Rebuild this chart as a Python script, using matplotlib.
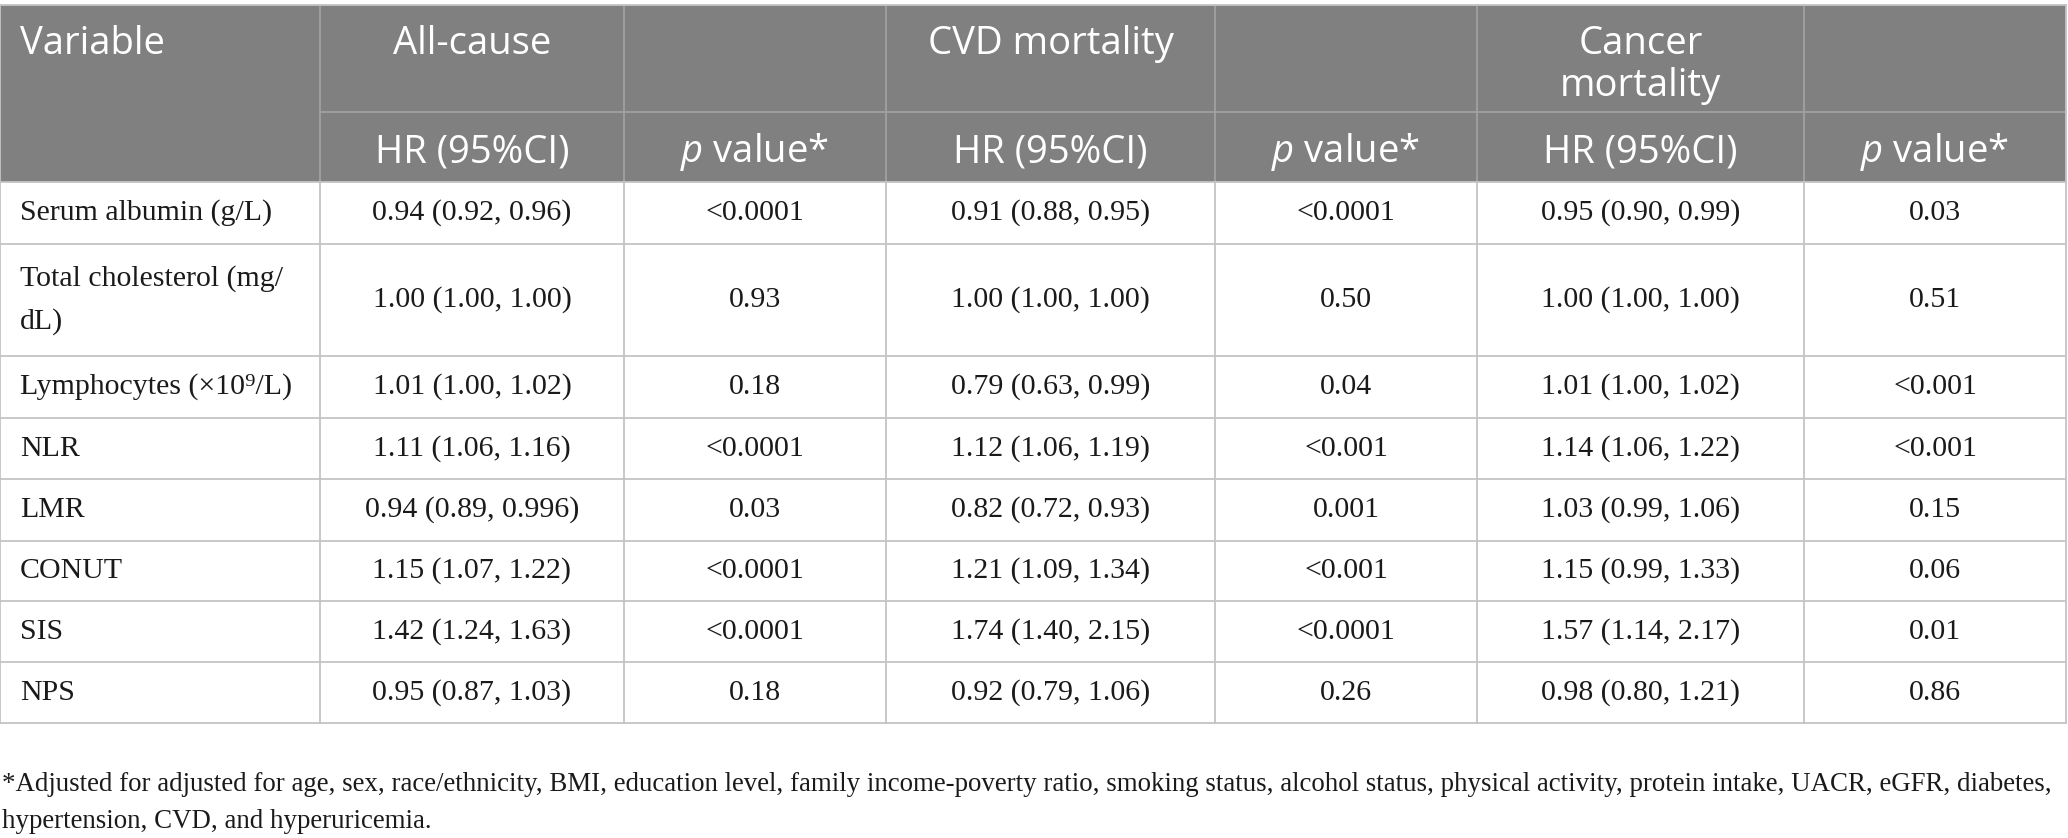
import matplotlib
matplotlib.use("Agg")
import matplotlib.pyplot as plt
from matplotlib.patches import Rectangle

# ---------------- data ----------------
variables = ["Serum albumin (g/L)", "Total cholesterol (mg/\ndL)", "Lymphocytes (×10⁹/L)",
             "NLR", "LMR", "CONUT", "SIS", "NPS"]
all_hr = ["0.94 (0.92, 0.96)", "1.00 (1.00, 1.00)", "1.01 (1.00, 1.02)", "1.11 (1.06, 1.16)",
          "0.94 (0.89, 0.996)", "1.15 (1.07, 1.22)", "1.42 (1.24, 1.63)", "0.95 (0.87, 1.03)"]
all_p = ["<0.0001", "0.93", "0.18", "<0.0001", "0.03", "<0.0001", "<0.0001", "0.18"]
cvd_hr = ["0.91 (0.88, 0.95)", "1.00 (1.00, 1.00)", "0.79 (0.63, 0.99)", "1.12 (1.06, 1.19)",
          "0.82 (0.72, 0.93)", "1.21 (1.09, 1.34)", "1.74 (1.40, 2.15)", "0.92 (0.79, 1.06)"]
cvd_p = ["<0.0001", "0.50", "0.04", "<0.001", "0.001", "<0.001", "<0.0001", "0.26"]
can_hr = ["0.95 (0.90, 0.99)", "1.00 (1.00, 1.00)", "1.01 (1.00, 1.02)", "1.14 (1.06, 1.22)",
          "1.03 (0.99, 1.06)", "1.15 (0.99, 1.33)", "1.57 (1.14, 2.17)", "0.98 (0.80, 1.21)"]
can_p = ["0.03", "0.51", "<0.001", "<0.001", "0.15", "0.06", "0.01", "0.86"]

header_top = ["Variable", "All-cause", "", "CVD mortality", "", "Cancer\nmortality", ""]
header_sub = ["", "HR (95%CI)", "$p$ value*", "HR (95%CI)", "$p$ value*", "HR (95%CI)", "$p$ value*"]
footnote = ["*Adjusted for adjusted for age, sex, race/ethnicity, BMI, education level, family income-poverty ratio, "
            "smoking status, alcohol status, physical activity, protein intake, UACR, eGFR, diabetes,",
            "hypertension, CVD, and hyperuricemia."]

# ---------------- layout ----------------
W, H = 2068, 838
col_x = [0, 320, 624, 886, 1215, 1477, 1804, 2066]
y_top, y_mid, y_hdr = 5, 112, 182
row_y = [182, 244, 356, 418, 479, 541, 601, 662, 723]

HEAD_BG = "#808080"
HEAD_LINE = "#a3a3a3"
GRID = "#c4c4c4"
TXT = "#1a1a1a"

plt.rcParams['mathtext.fontset'] = 'custom'
plt.rcParams['mathtext.it'] = 'Open Sans:italic'
plt.rcParams['mathtext.rm'] = 'Open Sans'

fig = plt.figure(figsize=(W / 100, H / 100), dpi=100)
ax = fig.add_axes([0, 0, 1, 1])
ax.set_xlim(0, W)
ax.set_ylim(H, 0)
ax.axis("off")

# header background
ax.add_patch(Rectangle((col_x[0], y_top), col_x[-1] - col_x[0], y_hdr - y_top,
                       facecolor=HEAD_BG, edgecolor="none", zorder=1))
# header lines
for x in col_x[1:-1]:
    ax.plot([x, x], [y_top, y_hdr], color=HEAD_LINE, lw=1.2, zorder=2)
ax.plot([col_x[1], col_x[-1]], [y_mid, y_mid], color=HEAD_LINE, lw=1.2, zorder=2)

# body grid
for y in row_y:
    ax.plot([col_x[0], col_x[-1]], [y, y], color=GRID, lw=1.3, zorder=2)
for x in col_x:
    ax.plot([x, x], [row_y[0], row_y[-1]], color=GRID, lw=1.3, zorder=2)
ax.plot([col_x[0], col_x[-1]], [y_top, y_top], color=GRID, lw=1.3, zorder=2)
for x in (col_x[0], col_x[-1]):
    ax.plot([x, x], [y_top, y_hdr], color=GRID, lw=1.3, zorder=2)

HFONT = "Open Sans"
hsize = 27.5
# header texts
ax.text(20, 44, header_top[0], ha="left", va="center", color="white", fontsize=hsize, family=HFONT, zorder=3)
for i in range(1, 7):
    cx = (col_x[i] + col_x[i + 1]) / 2
    if header_top[i]:
        lines = header_top[i].split("\n")
        for k, ln in enumerate(lines):
            ax.text(cx, 44 + k * 42, ln, ha="center", va="center", color="white",
                    fontsize=hsize, family=HFONT, zorder=3)
    ax.text(cx, 152, header_sub[i], ha="center", va="center", color="white",
            fontsize=hsize, family=HFONT, zorder=3)

BFONT = ["Liberation Serif", "DejaVu Serif"]
bsize = 21.5
cols = [all_hr, all_p, cvd_hr, cvd_p, can_hr, can_p]
for r in range(len(variables)):
    cy = (row_y[r] + row_y[r + 1]) / 2
    ax.text(20, cy, variables[r], ha="left", va="center", color=TXT, fontsize=bsize,
            family=BFONT, linespacing=1.75, zorder=3)
    for c, col in enumerate(cols):
        cx = (col_x[c + 1] + col_x[c + 2]) / 2
        ax.text(cx, cy, col[r], ha="center", va="center", color=TXT, fontsize=bsize,
                family=BFONT, zorder=3)

for k, ln in enumerate(footnote):
    ax.text(2, 784 + k * 37, ln, ha="left", va="center", color=TXT, fontsize=19.4,
            family=BFONT, zorder=3)

fig.savefig("out.png", dpi=100, facecolor="white")
